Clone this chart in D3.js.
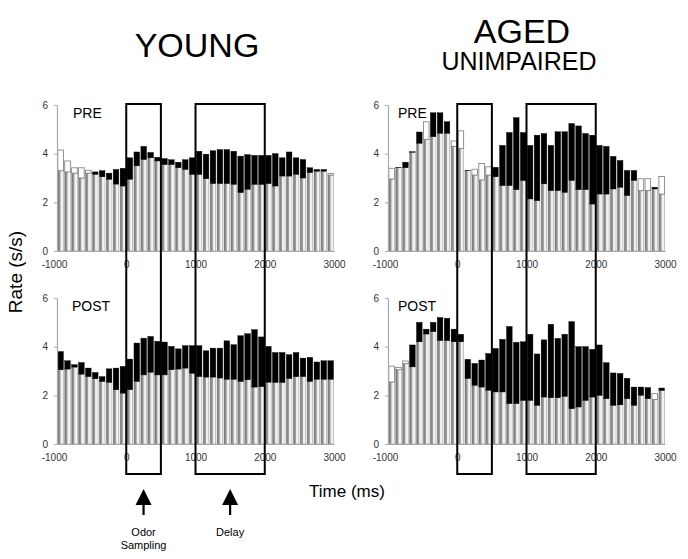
<!DOCTYPE html>
<html>
<head>
<meta charset="utf-8">
<script src="https://cdn.jsdelivr.net/npm/d3@7/dist/d3.min.js"></script>
<style>
  body { margin: 0; background: #fff; }
  svg { display: block; font-family: "Liberation Sans", Arial, sans-serif; }
</style>
</head>
<body>
<div id="chart"></div>
<script>
// 100 ms bins, start of each bin (ms)
const binStarts = [-1000, -900, -800, -700, -600, -500, -400, -300, -200, -100,
  0, 100, 200, 300, 400, 500, 600, 700, 800, 900,
  1000, 1100, 1200, 1300, 1400, 1500, 1600, 1700, 1800, 1900,
  2000, 2100, 2200, 2300, 2400, 2500, 2600, 2700, 2800, 2900];

const xTicks = [-1000, 0, 1000, 2000, 3000];
const yTicks = [0, 2, 4, 6];

// open (white) and filled (black) series, rate in s/s
const youngPreOpen = [4.15, 3.7, 3.42, 3.42, 3.32, 3.15, 3.05, 2.95, 2.75, 2.67,
  2.95, 3.5, 3.76, 3.83, 3.7, 3.55, 3.55, 3.42, 3.35, 3.15,
  3.15, 2.97, 2.77, 2.77, 2.77, 2.74, 2.4, 2.54, 2.74, 2.74,
  2.77, 2.67, 3.08, 3.08, 3.15, 3.0, 3.22, 3.28, 3.28, 3.18];
const youngPreFilled = [3.3, 3.25, 3.2, 3.0, 3.2, 3.25, 3.3, 3.2, 3.35, 3.4,
  3.83, 4.07, 4.3, 4.05, 3.85, 3.8, 3.75, 3.65, 3.75, 3.83,
  4.1, 3.98, 4.12, 4.17, 4.17, 4.1, 3.9, 3.96, 3.93, 3.93,
  3.93, 4.0, 3.83, 4.07, 3.83, 3.76, 3.42, 3.35, 3.35, 3.12];

const agedPreOpen = [3.4, 3.42, 3.42, 4.06, 4.43, 5.31, 4.7, 4.84, 4.84, 4.52,
  4.94, 3.3, 3.36, 3.6, 3.46, 3.05, 2.69, 2.69, 2.52, 2.9,
  2.14, 2.07, 2.76, 2.48, 2.48, 2.41, 2.9, 2.52, 2.52, 1.93,
  2.34, 2.34, 2.55, 2.62, 2.28, 2.9, 2.97, 2.97, 2.55, 3.06];
const agedPreFilled = [2.96, 3.44, 3.65, 4.08, 4.89, 4.59, 5.68, 5.68, 5.31, 4.3,
  4.22, 3.32, 3.12, 2.92, 3.12, 3.44, 4.34, 4.87, 5.48, 4.87,
  4.34, 4.76, 4.83, 4.34, 4.9, 4.9, 5.24, 5.14, 4.83, 4.76,
  4.34, 4.3, 3.89, 3.72, 3.31, 3.31, 2.48, 2.48, 2.62, 2.34];

const youngPostOpen = [3.05, 3.08, 3.16, 2.87, 2.77, 2.68, 2.57, 2.53, 2.23, 2.09,
  2.23, 2.57, 2.84, 2.95, 2.84, 2.84, 3.05, 3.08, 3.12, 2.91,
  2.77, 2.75, 2.75, 2.71, 2.66, 2.66, 2.57, 2.64, 2.34, 2.36,
  2.54, 2.53, 2.53, 2.69, 2.77, 2.77, 2.57, 2.66, 2.66, 2.66];
const youngPostFilled = [3.8, 3.42, 3.26, 3.35, 3.12, 2.94, 2.77, 3.09, 3.12, 3.19,
  3.49, 4.15, 4.35, 4.42, 4.22, 4.19, 4.01, 3.91, 4.04, 4.04,
  4.04, 3.83, 3.94, 3.94, 4.24, 4.08, 4.45, 4.53, 4.7, 4.4,
  4.01, 3.76, 3.76, 3.67, 3.76, 3.53, 3.56, 3.37, 3.42, 3.42];

const agedPostOpen = [3.2, 3.15, 3.41, 3.17, 4.2, 4.52, 4.62, 4.25, 4.25, 4.2,
  4.2, 2.69, 2.41, 2.34, 2.21, 2.14, 2.14, 1.66, 1.66, 1.79,
  1.79, 1.59, 1.93, 1.9, 1.9, 1.96, 1.45, 1.52, 1.79, 1.93,
  2.0, 1.86, 1.59, 1.61, 1.86, 1.59, 2.0, 1.86, 2.07, 2.2];
const agedPostFilled = [2.55, 3.05, 3.3, 4.07, 5.0, 4.72, 5.0, 5.2, 5.17, 4.72,
  4.51, 3.48, 3.31, 3.45, 3.72, 3.93, 4.3, 4.83, 4.18, 4.2,
  4.51, 3.7, 4.28, 4.92, 4.34, 4.51, 5.03, 4.0, 4.0, 3.89,
  4.07, 3.34, 2.92, 2.9, 2.7, 2.34, 2.34, 2.32, 1.83, 2.3];

const W = 688, H = 559;
const BIN = 100;

const svg = d3.select("#chart").append("svg")
  .attr("width", W)
  .attr("height", H);

// striped look of the base bars
const grad = svg.append("defs").append("linearGradient")
  .attr("id", "baseFill")
  .attr("x1", "0%").attr("x2", "100%").attr("y1", "0%").attr("y2", "0%");
grad.append("stop").attr("offset", "0%").attr("stop-color", "#6f6f6f");
grad.append("stop").attr("offset", "40%").attr("stop-color", "#9d9d9d");
grad.append("stop").attr("offset", "55%").attr("stop-color", "#ececec");
grad.append("stop").attr("offset", "100%").attr("stop-color", "#f7f7f7");

const xLeft = d3.scaleLinear().domain([-1000, 3000]).range([57, 334]);
const xRight = d3.scaleLinear().domain([-1000, 3000]).range([388, 665]);
const yTop = d3.scaleLinear().domain([0, 6]).range([251, 105]);
const yBottom = d3.scaleLinear().domain([0, 6]).range([444, 298]);

const panels = [
  { x: xLeft, y: yTop, open: youngPreOpen, filled: youngPreFilled, label: "PRE", dx: 16 },
  { x: xRight, y: yTop, open: agedPreOpen, filled: agedPreFilled, label: "PRE", dx: 10 },
  { x: xLeft, y: yBottom, open: youngPostOpen, filled: youngPostFilled, label: "POST", dx: 15 },
  { x: xRight, y: yBottom, open: agedPostOpen, filled: agedPostFilled, label: "POST", dx: 10 }
];

panels.forEach(p => {
  const g = svg.append("g");
  const data = binStarts.map((t, i) => ({ t, open: p.open[i], filled: p.filled[i] }));
  const bx = d => p.x(d.t) + 0.8;
  const bw = d => p.x(d.t + BIN) - p.x(d.t) - 1.3;

  // base bar up to the lower of the two rates
  g.selectAll("rect.base")
    .data(data)
    .enter()
    .append("rect")
      .attr("class", "base")
      .attr("x", bx)
      .attr("width", bw)
      .attr("y", d => p.y(Math.min(d.open, d.filled)))
      .attr("height", d => p.y(0) - p.y(Math.min(d.open, d.filled)))
      .attr("fill", "url(#baseFill)")
      .attr("stroke", "#8c8c8c")
      .attr("stroke-width", 0.5);

  // difference box: black when filled > open, white otherwise
  g.selectAll("rect.diff")
    .data(data)
    .enter()
    .append("rect")
      .attr("class", "diff")
      .attr("x", bx)
      .attr("width", bw)
      .attr("y", d => p.y(Math.max(d.open, d.filled)))
      .attr("height", d => Math.abs(p.y(d.open) - p.y(d.filled)))
      .attr("fill", d => d.filled > d.open ? "#000" : "#fff")
      .attr("stroke", d => d.filled > d.open ? "#000" : "#7a7a7a")
      .attr("stroke-width", d => d.filled > d.open ? 0.4 : 0.8);

  const yAxis = g.append("g")
    .attr("transform", `translate(${p.x(-1000)},0)`)
    .call(d3.axisLeft(p.y).tickValues(yTicks).tickFormat(d => String(d))
      .tickSize(3).tickSizeOuter(0).tickPadding(6));

  const xAxis = g.append("g")
    .attr("transform", `translate(0,${p.y(0)})`)
    .call(d3.axisBottom(p.x).tickValues(xTicks).tickFormat(d => String(d))
      .tickSize(0).tickSizeOuter(0).tickPadding(10));

  xAxis.selectAll(".tick text").filter(d => d < 0).attr("dx", -3);

  [yAxis, xAxis].forEach(a => {
    a.select(".domain").attr("stroke", "#a8a8a8").attr("stroke-width", 1.2);
    a.selectAll(".tick line").attr("stroke", "#a8a8a8");
    a.selectAll(".tick text")
      .attr("fill", "#333")
      .style("font-size", "10px")
      .style("font-family", "Liberation Sans, Arial, sans-serif");
  });

  g.append("text")
    .attr("x", p.x(-1000) + p.dx)
    .attr("y", p.y(6) + 13)
    .style("font-size", "14px")
    .text(p.label);
});

// epoch boxes spanning both rows
const boxTop = 104, boxBottom = 474;
[[xLeft, 0, 500], [xLeft, 1000, 2000], [xRight, 0, 500], [xRight, 1000, 2000]].forEach(([sx, a, b]) => {
  svg.append("rect")
    .attr("x", sx(a))
    .attr("y", boxTop)
    .attr("width", sx(b) - sx(a))
    .attr("height", boxBottom - boxTop)
    .attr("fill", "none")
    .attr("stroke", "#000")
    .attr("stroke-width", 2);
});

// titles
svg.append("text")
  .attr("x", 197).attr("y", 57)
  .attr("text-anchor", "middle")
  .style("font-size", "34px")
  .text("YOUNG");

svg.append("text")
  .attr("x", 522).attr("y", 43)
  .attr("text-anchor", "middle")
  .style("font-size", "34px")
  .text("AGED");

svg.append("text")
  .attr("x", 519).attr("y", 70)
  .attr("text-anchor", "middle")
  .style("font-size", "25px")
  .text("UNIMPAIRED");

svg.append("text")
  .attr("transform", "translate(22,272) rotate(-90)")
  .attr("text-anchor", "middle")
  .style("font-size", "19px")
  .text("Rate (s/s)");

svg.append("text")
  .attr("x", 347).attr("y", 497)
  .attr("text-anchor", "middle")
  .style("font-size", "17px")
  .text("Time (ms)");

// arrows under the boxes
const arrows = [
  { t: 250, lines: ["Odor", "Sampling"] },
  { t: 1500, lines: ["Delay"] }
];
arrows.forEach(a => {
  const cx = xLeft(a.t);
  svg.append("path")
    .attr("d", `M${cx},489 L${cx - 8},505 L${cx + 8},505 Z`)
    .attr("fill", "#000");
  svg.append("line")
    .attr("x1", cx).attr("x2", cx)
    .attr("y1", 503).attr("y2", 515)
    .attr("stroke", "#000")
    .attr("stroke-width", 2.2);
  a.lines.forEach((s, i) => {
    svg.append("text")
      .attr("x", cx).attr("y", 536 + i * 13)
      .attr("text-anchor", "middle")
      .style("font-size", "11px")
      .text(s);
  });
});
</script>
</body>
</html>
